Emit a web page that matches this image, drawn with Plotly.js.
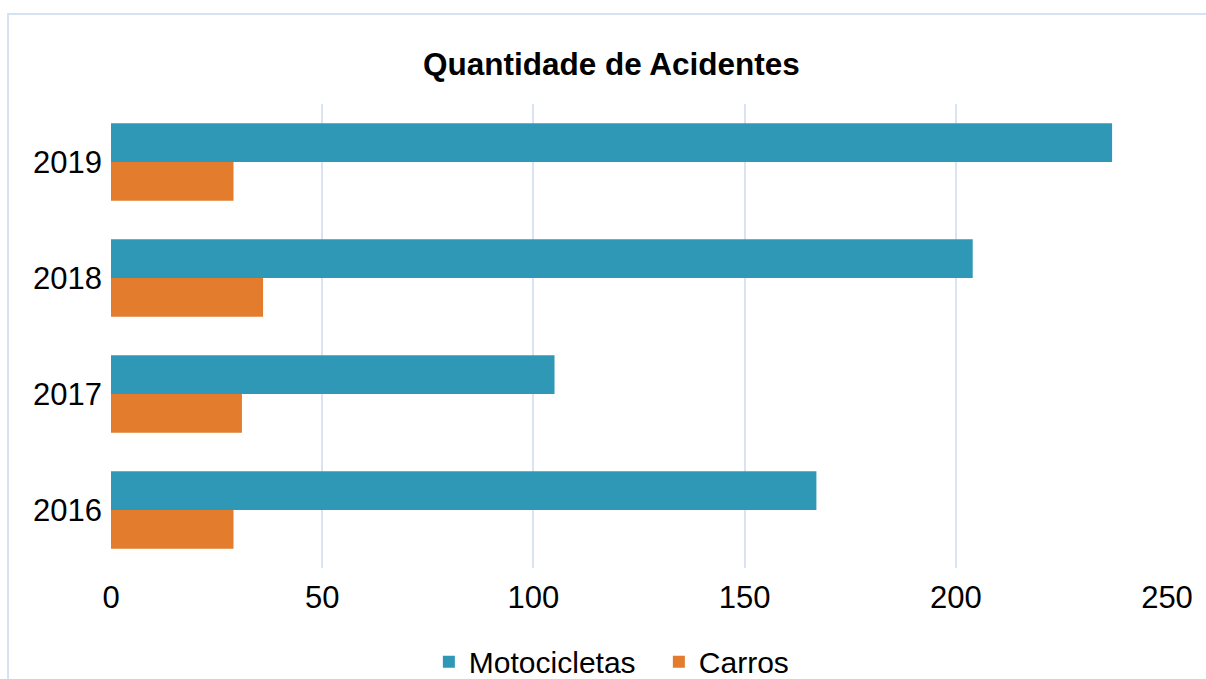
<!DOCTYPE html>
<html>
<head>
<meta charset="utf-8">
<script src="https://cdn.plot.ly/plotly-3.0.1.min.js"></script>
<style>html,body{margin:0;padding:0;background:#fff;}#chart{width:1206px;height:679px;}</style>
</head>
<body>
<div id="chart"></div>
<script>
const years = ['2016', '2017', '2018', '2019'];
const motocicletas = [167, 105, 204, 237];
const carros = [29, 31, 36, 29];
const seriesNames = ['Motocicletas', 'Carros'];
const xTicks = [0, 50, 100, 150, 200, 250];

const traces = [
  {type: 'bar', orientation: 'h', name: seriesNames[0], y: years, x: motocicletas,
   marker: {color: '#2f98b6', line: {width: 0}}, hoverinfo: 'x+name'},
  {type: 'bar', orientation: 'h', name: seriesNames[1], y: years, x: carros,
   marker: {color: '#e37c2c', line: {width: 0}}, hoverinfo: 'x+name'}
];

const layout = {
  width: 1206, height: 679,
  margin: {l: 111, r: 39, t: 104, b: 111, autoexpand: false},
  paper_bgcolor: '#ffffff', plot_bgcolor: '#ffffff',
  font: {family: 'Liberation Sans, Arial, sans-serif', size: 31, color: '#000'},
  title: {text: '<b>Quantidade de Acidentes</b>', x: 0.507, xanchor: 'center', y: 0.906, yanchor: 'middle',
          font: {size: 31.5, family: 'Liberation Sans, Arial, sans-serif', color: '#000'}},
  barmode: 'group', bargap: 0.33, bargroupgap: 0,
  xaxis: {range: [0, 250], tickvals: xTicks, ticktext: xTicks.map(String),
          showgrid: true, gridcolor: '#d9e3f1', gridwidth: 2, zeroline: false,
          showline: false, ticks: '', ticklabelstandoff: 8, tickfont: {size: 31}, fixedrange: true},
  yaxis: {type: 'category', categoryorder: 'array', categoryarray: ['2019','2018','2017','2016'],
          autorange: 'reversed', showgrid: false, zeroline: false, showline: false,
          ticks: '', ticklabelstandoff: 8, tickfont: {size: 31}, fixedrange: true},
  showlegend: true,
  legend: {orientation: 'h', x: 0.301, xanchor: 'left', y: -0.202, yanchor: 'middle',
           entrywidth: 185, font: {size: 30}, traceorder: 'normal', bgcolor: 'rgba(0,0,0,0)'},
  shapes: [{type: 'rect', xref: 'paper', yref: 'paper', x0: -0.0975, x1: 1.2, y0: -0.5, y1: 1.194,
            line: {color: '#d6e2f1', width: 2}, fillcolor: 'rgba(0,0,0,0)', layer: 'below'}]
};

Plotly.newPlot('chart', traces, layout, {displayModeBar: false, staticPlot: true});
</script>
</body>
</html>
